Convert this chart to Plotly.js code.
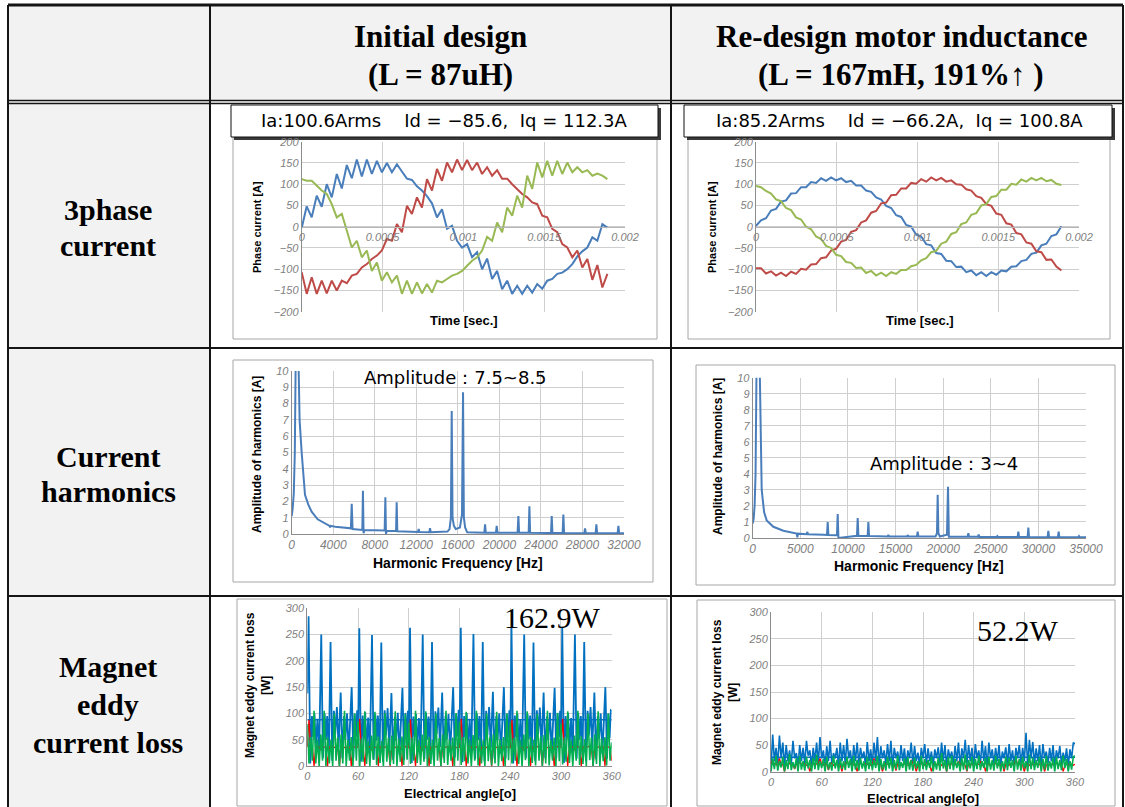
<!DOCTYPE html>
<html><head><meta charset="utf-8">
<script src="https://cdn.plot.ly/plotly-3.0.1.min.js"></script>
<style>html,body{margin:0;padding:0;background:#fff}#chart{width:1125px;height:807px}</style>
</head><body><div id="chart"></div>
<script>
const W = 1125, H = 807;

// ---------- 3-phase current (time in seconds) ----------
const timeSec = [0,0.000031,0.000062,0.000093,0.000124,0.000155,0.000186,0.000217,0.000248,0.000279,0.00031,0.000341,0.000372,0.000403,0.000434,0.000465,0.000496,0.000527,0.000558,0.000589,0.00062,0.000651,0.000682,0.000713,0.000744,0.000775,0.000806,0.000837,0.000868,0.000899,0.00093,0.000961,0.000992,0.001023,0.001054,0.001085,0.001116,0.001147,0.001178,0.001209,0.00124,0.001271,0.001302,0.001333,0.001364,0.001395,0.001426,0.001457,0.001488,0.001519,0.00155,0.001581,0.001612,0.001643,0.001674,0.001705,0.001736,0.001767,0.001798,0.001829,0.00186,0.001891];
const initPhaseA = [-3,48,22,73,47,100,69,124,90,145,114,158,118,158,124,155,128,150,128,147,130,113,110,95,85,72,55,22,41,-5,2,-33,-49,-41,-72,-60,-100,-75,-123,-104,-147,-127,-158,-139,-158,-139,-155,-135,-146,-127,-123,-111,-108,-100,-88,-70,-58,-49,-25,-33,6,-2];
const initPhaseB = [-107,-158,-119,-158,-127,-157,-127,-150,-127,-133,-115,-111,-96,-88,-76,-68,-56,-29,-33,6,-13,49,30,69,45,112,85,136,108,151,128,158,133,157,133,151,124,140,120,133,113,113,100,89,77,69,57,53,26,22,-5,-13,-41,-49,-72,-56,-96,-76,-125,-90,-143,-111];
const initPhaseC = [112,108,108,96,85,77,53,22,30,-9,-49,-33,-72,-56,-104,-84,-127,-107,-131,-115,-158,-127,-158,-131,-157,-135,-155,-127,-131,-123,-115,-111,-104,-92,-80,-72,-56,-24,-33,10,-13,45,26,73,45,120,89,151,116,155,120,155,124,151,128,140,128,133,120,125,120,112];
const redPhaseA = [2,15,20,38,42,59,62,78,79,93,93,105,103,114,108,116,109,114,105,108,97,97,85,82,69,64,49,44,27,23,4,0,-19,-23,-41,-44,-62,-64,-80,-81,-95,-94,-107,-103,-114,-107,-116,-107,-113,-103,-105,-94,-93,-81,-78,-64,-61,-44,-40,-22,-18,1];
const redPhaseB = [-98,-98,-110,-105,-115,-108,-116,-106,-111,-99,-101,-89,-88,-74,-72,-56,-52,-35,-31,-12,-8,10,15,33,37,55,57,74,75,90,90,103,101,112,106,116,109,115,106,109,100,99,88,85,72,68,53,49,31,28,8,5,-15,-18,-37,-40,-58,-60,-78,-77,-94,-103];
const redPhaseC = [96,93,84,78,64,60,44,39,22,17,0,-6,-23,-29,-45,-50,-66,-69,-83,-85,-97,-96,-109,-104,-115,-108,-116,-107,-111,-102,-102,-93,-90,-79,-74,-60,-57,-40,-35,-17,-13,6,10,28,32,50,53,70,72,87,87,101,99,111,106,115,109,115,107,110,101,98];
const timeTickVals = [0,0.0005,0.001,0.0015,0.002];
const timeTickText = ["0","0.0005","0.001","0.0015","0.002"];

// ---------- current harmonics ----------
const harmInitFreq = [0,100,200,300,380,450,526,600,660,760,960,1280,1600,1920,2500,3200,3650,3700,3750,4200,5000,5700,5780,5860,6800,6860,6920,7000,8000,8950,9020,9080,9150,10050,10110,10170,12150,12230,12300,13250,13320,13390,15000,15200,15330,15410,15490,15620,15800,16200,16400,16500,16580,16700,16900,18550,18620,18690,19670,19740,19810,21750,21830,21900,22820,22890,22960,24970,25040,25110,26090,26160,26230,28180,28250,28320,29270,29340,29410,31390,31460,31530,32000];
const harmInitAmp = [1.1,1.6,2.5,5,10.5,25,40,25,10.5,7,5,2.4,1.8,1.37,0.9,0.65,0.5,0.4,0.5,0.45,0.38,0.35,1.85,0.3,0.25,2.65,0.05,0.25,0.23,0.22,2.25,0.0,0.2,0.18,1.95,0.17,0.12,0.3,0.12,0.11,0.35,0.11,0.15,0.3,1.0,7.55,1.0,0.5,0.3,0.4,1.2,8.7,1.0,0.4,0.1,0.08,0.6,0.08,0.08,0.5,0.08,0.07,1.1,0.07,0.07,1.7,0.07,0.06,1.1,0.06,0.06,1.2,0.06,0.05,0.35,0.05,0.05,0.6,0.05,0.05,0.5,0.05,0.05];
const harmRedFreq = [0,100,200,300,400,470,560,650,740,945,1200,1470,2170,3220,4620,4690,4760,5670,5740,5810,7420,7800,7875,7950,8850,8925,9000,10950,11025,11100,12070,12145,12220,14170,14245,14320,16200,16275,16350,17250,17325,17400,19200,19350,19425,19500,19650,20400,20510,20600,22570,22645,22720,23650,23730,23800,25620,25690,25760,27820,27895,27970,28870,28945,29020,30970,31045,31120,32050,32130,32200,34190,34265,34340,35000];
const harmRedAmp = [0.9,1.2,2.0,4,10.5,30,40,30,10.5,3,1.6,1.1,0.7,0.45,0.28,0.05,0.27,0.24,0.38,0.23,0.2,0.19,1.0,0.18,0.17,1.5,0.0,0.14,1.25,0.13,0.12,1.0,0.12,0.1,0.2,0.1,0.1,0.18,0.1,0.09,0.4,0.09,0.09,0.3,2.7,0.3,0.09,0.2,3.2,0.08,0.08,0.3,0.08,0.08,0.22,0.07,0.07,0.12,0.07,0.06,0.4,0.06,0.06,0.65,0.06,0.05,0.45,0.05,0.05,0.4,0.05,0.05,0.12,0.05,0.05];

// ---------- magnet eddy current loss ----------
const eddyInitBlueAngle = [0,1.5,3.5,5.5,7,8.5,10,12,14,16.5,18.5,20.5,22,23.5,25.5,27.5,29.5,31.5,33,35,37,39.5,41.5,43.5,45,47,49,52.5,54.5,56,57.5,59,60,
61.5,63.5,65.5,67,68.5,70,72,74,76.5,78.5,80.5,82,83.5,85.5,87.5,89.5,91.5,93,95,97,99.5,101.5,103.5,105,107,109,112.5,114.5,116,117.5,119,120,
121.5,123.5,125.5,127,128.5,130,132,134,136.5,138.5,140.5,142,143.5,145.5,147.5,149.5,151.5,153,155,157,159.5,161.5,163.5,165,167,169,172.5,174.5,176,177.5,179,180,
181.5,183.5,185.5,187,188.5,190,192,194,196.5,198.5,200.5,202,203.5,205.5,207.5,209.5,211.5,213,215,217,219.5,221.5,223.5,225,227,229,232.5,234.5,236,237.5,239,240,
241.5,243.5,245.5,247,248.5,250,252,254,256.5,258.5,260.5,262,263.5,265.5,267.5,269.5,271.5,273,275,277,279.5,281.5,283.5,285,287,289,292.5,294.5,296,297.5,299,300,
301.5,303.5,305.5,307,308.5,310,312,314,316.5,318.5,320.5,322,323.5,325.5,327.5,329.5,331.5,333,335,337,339.5,341.5,343.5,345,347,349,352.5,354.5,356,357.5,359,360];
const eddyInitBlueLoss = [138,285,5,95,55,100,35,90,25,250,15,100,50,95,20,236,10,105,60,112,35,140,15,95,50,100,25,150,15,100,55,106,40,
262,8,96,52,102,30,92,22,249,12,98,48,96,18,235,8,106,58,110,32,139,12,94,48,101,22,149,12,101,52,105,38,
263,6,94,56,99,36,91,26,250,14,101,50,94,21,236,11,104,61,111,36,140,16,96,51,99,26,150,16,99,56,107,41,
263,7,95,54,101,33,90,24,251,13,100,49,95,19,236,9,105,59,112,34,141,14,95,49,100,24,150,14,100,54,106,39,
263,5,96,55,100,35,89,25,250,15,99,51,96,20,235,10,106,60,111,35,140,15,94,50,101,25,149,15,101,55,105,40,
265,6,95,53,101,34,91,23,250,14,100,50,95,21,236,9,105,58,112,33,140,13,95,52,100,23,150,14,100,53,106,105];
const eddyMeanAngle = [0,360];
const eddyInitBlueMean = [88,88];
const eddyRedBlueMean = [27,27];
const angleGrid = [0,2,4,6,8,10,12,14,16,18,20,22,24,26,28,30,32,34,36,38,40,42,44,46,48,50,52,54,56,58,60,62,64,66,68,70,72,74,76,78,80,82,84,86,88,90,92,94,96,98,100,102,104,106,108,110,112,114,116,118,120,122,124,126,128,130,132,134,136,138,140,142,144,146,148,150,152,154,156,158,160,162,164,166,168,170,172,174,176,178,180,182,184,186,188,190,192,194,196,198,200,202,204,206,208,210,212,214,216,218,220,222,224,226,228,230,232,234,236,238,240,242,244,246,248,250,252,254,256,258,260,262,264,266,268,270,272,274,276,278,280,282,284,286,288,290,292,294,296,298,300,302,304,306,308,310,312,314,316,318,320,322,324,326,328,330,332,334,336,338,340,342,344,346,348,350,352,354,356,358,360];
const eddyInitGreen = [80,5,55,10,105,5,50,0,60,10,105,0,55,5,50,0,100,10,55,0,60,5,105,0,50,10,55,0,100,10,
85,0,52,8,104,4,48,0,58,12,103,2,56,6,48,0,101,8,54,2,58,4,104,0,52,8,56,2,99,12,
82,4,54,10,105,6,50,2,60,8,104,0,55,4,50,0,100,10,53,0,60,6,105,2,50,10,54,0,101,10,
84,2,55,9,103,5,51,0,59,10,105,1,54,5,49,0,100,9,55,1,61,5,103,0,51,9,55,0,100,11,
83,5,53,10,105,4,50,0,60,11,104,0,55,6,50,1,99,10,56,0,59,5,105,1,50,10,54,0,101,9,
81,3,54,8,104,6,49,0,58,10,105,2,56,4,51,0,100,11,54,0,60,4,104,0,52,9,55,1,100,10,45];
const eddyInitRed = [36,88,30,36,0,38,35,36,30,37,36,35,0,36,37,36,35,38,36,0,36,37,35,36,34,36,0,37,36,35,
36,90,28,37,0,36,35,37,31,36,35,36,0,37,36,35,36,37,35,0,37,36,35,37,34,35,0,36,37,35,
35,89,30,36,0,37,36,35,30,36,37,35,0,36,35,37,36,38,35,0,36,35,36,37,35,36,0,36,35,36,
36,90,29,36,0,38,35,36,31,37,36,35,0,35,37,36,35,37,36,0,36,37,35,36,34,36,0,37,36,35,
35,88,30,37,0,36,36,35,30,36,35,37,0,36,36,35,37,36,35,0,37,36,35,36,35,36,0,36,37,35,
36,90,28,36,0,37,35,36,31,36,37,35,0,36,37,35,36,38,36,0,36,35,36,37,34,36,0,37,36,35,10];
const eddyRedBlue = [5,70,20,45,15,68,25,55,10,50,20,40,15,58,25,35,10,50,20,45,
15,58,30,40,10,45,20,55,15,65,25,40,10,48,20,58,15,35,25,45,
10,55,20,50,15,62,25,40,10,50,20,55,15,45,25,38,10,56,20,42,
15,55,20,65,10,48,25,40,15,52,20,58,10,45,25,38,15,50,20,44,
10,40,25,55,15,48,20,36,10,45,25,52,15,44,20,38,10,42,25,46,
15,55,20,50,10,42,25,38,15,48,20,55,10,44,25,60,15,50,20,45,
10,52,25,40,15,58,20,48,10,55,25,42,15,45,20,50,10,38,25,46,
15,52,20,40,10,45,25,50,15,45,20,73,10,60,25,56,15,44,20,50,
10,52,25,38,15,45,20,50,10,40,25,48,15,36,20,44,10,42,25,55,52];
const eddyRedGreen = [0,25,5,30,2,20,8,28,0,22,5,33,3,18,6,25,0,30,4,20,
2,28,6,22,0,26,5,32,3,20,7,24,0,28,4,18,2,30,6,22,
0,25,5,20,3,28,7,24,0,30,4,22,2,26,6,20,0,28,5,25,
3,22,7,30,0,24,4,20,2,28,6,26,0,22,5,30,3,18,7,25,
0,28,4,22,2,26,6,20,0,30,5,24,3,22,7,28,0,20,4,26,
2,35,6,22,0,28,5,30,3,24,7,20,0,26,4,32,2,22,6,28,
0,24,5,30,3,20,7,26,0,28,4,22,2,30,6,24,0,20,5,28,
3,26,7,22,0,30,4,24,2,28,6,20,0,32,5,26,3,22,7,28,
0,24,4,30,2,20,6,26,0,28,5,22,3,30,7,24,0,20,4,28,30];
const eddyRedRed = [14,22,12,15,10,25,13,14,0,15,12,16,14,13,5,15,12,20,14,13,
15,12,14,0,13,16,12,15,14,25,13,12,15,14,3,13,16,12,14,15,
12,14,0,15,13,22,12,14,15,13,12,0,14,16,13,12,15,14,13,12,
14,25,12,15,13,14,0,12,15,14,13,16,12,14,2,15,13,12,14,15,
13,12,14,22,15,13,0,12,14,15,13,12,16,14,13,0,12,15,14,13,
15,12,14,13,0,16,12,15,13,14,12,20,15,13,14,12,0,15,13,14,
12,15,13,14,20,12,15,0,13,14,12,15,13,16,14,12,13,15,0,14,
13,12,15,14,12,25,13,14,15,12,0,13,14,12,15,13,14,16,12,13,
15,14,0,13,12,15,14,13,12,16,14,13,15,0,12,14,13,15,14,12,14];

// ---------- helpers ----------
const xp = p => p / W;
const yp = p => 1 - p / H;
const SANS = 'Liberation Sans, Arial, sans-serif';
const SERIF = 'Liberation Serif, Times New Roman, serif';
const tickFont = {family: SANS, size: 11, color: '#7f7f7f', style: 'italic'};
const GRID = '#cfcfcf', AXL = '#8c8c8c';

function xAxis(x0, x1, extra) {
  return Object.assign({domain: [xp(x0), xp(x1)], showgrid: true, gridcolor: GRID, gridwidth: 1,
    showline: true, linecolor: AXL, linewidth: 1, zeroline: false, ticks: '', tickfont: tickFont,
    fixedrange: true, tickformat: 'd'}, extra);
}
function yAxis(top, bottom, extra) {
  return Object.assign({domain: [yp(bottom), yp(top)], showgrid: true, gridcolor: GRID, gridwidth: 1,
    showline: true, linecolor: AXL, linewidth: 1, zeroline: false, ticks: '', tickfont: tickFont,
    fixedrange: true}, extra);
}
function ln(x, y, xa, ya, color, width) {
  return {x: x, y: y, xaxis: xa, yaxis: ya, type: 'scatter', mode: 'lines',
    line: {color: color, width: width}, hoverinfo: 'skip'};
}

const BLUE = '#4a7ebb', RED = '#be4b48', GREEN = '#98b954';
const data = [
  ln(timeSec, initPhaseA, 'x', 'y', BLUE, 2),
  ln(timeSec, initPhaseB, 'x', 'y', RED, 2),
  ln(timeSec, initPhaseC, 'x', 'y', GREEN, 2),
  ln(timeSec, redPhaseA, 'x2', 'y2', BLUE, 2),
  ln(timeSec, redPhaseB, 'x2', 'y2', RED, 2),
  ln(timeSec, redPhaseC, 'x2', 'y2', GREEN, 2),
  ln(harmInitFreq, harmInitAmp, 'x3', 'y3', BLUE, 2),
  ln(harmRedFreq, harmRedAmp, 'x4', 'y4', BLUE, 2),
  ln(eddyInitBlueAngle, eddyInitBlueLoss, 'x5', 'y5', '#0070c0', 1.8),
  ln(eddyMeanAngle, eddyInitBlueMean, 'x5', 'y5', '#0070c0', 1.5),
  ln(angleGrid, eddyInitRed, 'x5', 'y5', '#ff0000', 1.3),
  ln(angleGrid, eddyInitGreen, 'x5', 'y5', '#00b050', 1.6),
  ln(angleGrid, eddyRedBlue, 'x6', 'y6', '#0070c0', 1.6),
  ln(eddyMeanAngle, eddyRedBlueMean, 'x6', 'y6', '#0070c0', 1.5),
  ln(angleGrid, eddyRedRed, 'x6', 'y6', '#ff0000', 1.3),
  ln(angleGrid, eddyRedGreen, 'x6', 'y6', '#00b050', 1.6)
];

// ---------- shapes (table + frames) ----------
const shapes = [];
function rect(x0, y0, x1, y1, fill, lineColor, lw) {
  shapes.push({type: 'rect', xref: 'paper', yref: 'paper', x0: xp(x0), x1: xp(x1), y0: yp(y1), y1: yp(y0),
    fillcolor: fill || 'rgba(0,0,0,0)', line: {color: lineColor || 'rgba(0,0,0,0)', width: lw || 0}, layer: 'below'});
}
function seg(x0, y0, x1, y1, color, lw) {
  shapes.push({type: 'line', xref: 'paper', yref: 'paper', x0: xp(x0), x1: xp(x1), y0: yp(y0), y1: yp(y1),
    line: {color: color, width: lw}, layer: 'above'});
}
rect(8, 5, 1123, 101, '#f2f2f2');
rect(8, 101, 210, 807, '#f2f2f2');
// chart frames
rect(233, 137, 657, 339, null, '#a6a6a6', 1);
rect(688, 137, 1110, 339, null, '#a6a6a6', 1);
rect(233, 360, 653, 582, null, '#a6a6a6', 1);
rect(696, 365, 1115, 585, null, '#a6a6a6', 1);
rect(237, 599, 667, 806, null, '#a6a6a6', 1);
rect(697, 600, 1115, 806, null, '#a6a6a6', 1);
// label boxes with shadow
rect(234, 108, 661, 140, '#3a3a3a');
rect(231, 105, 658, 137, '#ffffff', '#111111', 1);
rect(687, 108, 1115, 140, '#3a3a3a');
rect(684, 105, 1112, 137, '#ffffff', '#111111', 1);
// table lines
const TL = '#151515';
seg(8, 5, 1123, 5, TL, 3);
seg(8, 100.5, 1123, 100.5, TL, 1.5);
seg(8, 103.5, 1123, 103.5, TL, 1.5);
seg(8, 348, 1123, 348, TL, 2);
seg(8, 596, 1123, 596, TL, 2);
seg(8, 5, 8, 807, TL, 2);
seg(210, 5, 210, 807, TL, 2);
seg(671, 5, 671, 807, TL, 2);
seg(1123, 5, 1123, 807, TL, 2);

// ---------- annotations ----------
const ann = [];
function A(text, x, y, font, extra) {
  ann.push(Object.assign({text: text, xref: 'paper', yref: 'paper', x: xp(x), y: yp(y),
    xanchor: 'center', yanchor: 'middle', showarrow: false, font: font}, extra || {}));
}
const headFont = {family: SERIF, size: 31, color: '#000'};
A('<b>Initial design</b>', 440, 37, headFont);
A('<b>(L = 87uH)</b>', 440, 74, headFont);
A('<b>Re-design motor inductance</b>', 901, 37, headFont);
A('<b>(L = 167mH, 191%↑ )</b>', 900, 74, headFont);
const rowFont = {family: SERIF, size: 30, color: '#000'};
A('<b>3phase</b>', 108, 210, rowFont);
A('<b>current</b>', 108, 245, rowFont);
A('<b>Current</b>', 108, 456, rowFont);
A('<b>harmonics</b>', 108, 492, rowFont);
A('<b>Magnet</b>', 108, 666, rowFont);
A('<b>eddy</b>', 108, 704, rowFont);
A('<b>current loss</b>', 108, 742, rowFont);

const boxFont = {family: 'DejaVu Sans, sans-serif', size: 18, color: '#000'};
const NB = '\u00a0';
A('Ia:100.6Arms' + NB.repeat(4) + 'Id = −85.6,' + NB.repeat(2) + 'Iq = 112.3A', 444, 121, boxFont);
A('Ia:85.2Arms' + NB.repeat(4) + 'Id = −66.2A,' + NB.repeat(2) + 'Iq = 100.8A', 899, 121, boxFont);
A('Amplitude：7.5~8.5', 455, 378, boxFont);
A('Amplitude：3~4', 944, 463, boxFont);
const bigFont = {family: SERIF, size: 30, color: '#000'};
A('162.9W', 552, 617, bigFont);
A('52.2W', 1018, 630, bigFont);

const tV = {family: SANS, size: 11, color: '#000'};
const tH = {family: SANS, size: 13, color: '#000'};
A('<b>Phase current [A]</b>', 257, 227, tV, {textangle: -90});
A('<b>Time [sec.]</b>', 464, 320, tH);
A('<b>Phase current [A]</b>', 712, 227, tV, {textangle: -90});
A('<b>Time [sec.]</b>', 920, 320, tH);
A('<b>Amplitude of harmonics [A]</b>', 257, 455, {family: SANS, size: 12, color: '#000'}, {textangle: -90});
A('<b>Harmonic Frequency [Hz]</b>', 458, 563, {family: SANS, size: 14, color: '#000'});
A('<b>Amplitude of harmonics [A]</b>', 718, 457, {family: SANS, size: 12, color: '#000'}, {textangle: -90});
A('<b>Harmonic Frequency [Hz]</b>', 919, 566, {family: SANS, size: 14, color: '#000'});
A('<b>Magnet eddy current loss<br>[W]</b>', 258, 685, {family: SANS, size: 12, color: '#000'}, {textangle: -90});
A('<b>Electrical angle[o]</b>', 460, 793, {family: SANS, size: 13, color: '#000'});
A('<b>Magnet eddy current loss<br>[W]</b>', 725, 692, {family: SANS, size: 12, color: '#000'}, {textangle: -90});
A('<b>Electrical angle[o]</b>', 923, 798, {family: SANS, size: 13, color: '#000'});

const layout = {
  width: W, height: H, margin: {l: 0, r: 0, t: 0, b: 0, pad: 0},
  paper_bgcolor: '#ffffff', plot_bgcolor: 'rgba(0,0,0,0)', showlegend: false,
  xaxis: xAxis(301.7, 625, {range: [0, 0.002], tickvals: timeTickVals, ticktext: timeTickText, anchor: 'free', position: yp(226.7), tickformat: '', linecolor: '#b5b5b5'}),
  yaxis: yAxis(141.7, 311.7, {range: [-200, 200], dtick: 50, tick0: 0, anchor: 'x'}),
  xaxis2: xAxis(756, 1079, {range: [0, 0.002], tickvals: timeTickVals, ticktext: timeTickText, anchor: 'free', position: yp(226.7), tickformat: '', linecolor: '#b5b5b5'}),
  yaxis2: yAxis(141.7, 311.7, {range: [-200, 200], dtick: 50, tick0: 0, anchor: 'x2'}),
  xaxis3: xAxis(291.7, 624, {range: [0, 32000], dtick: 4000, tick0: 0, anchor: 'y3', tickfont: Object.assign({}, tickFont, {size: 12})}),
  yaxis3: yAxis(371, 534, {range: [0, 10], dtick: 1, tick0: 0, anchor: 'x3'}),
  xaxis4: xAxis(752.7, 1086, {range: [0, 35000], dtick: 5000, tick0: 0, anchor: 'y4', tickfont: Object.assign({}, tickFont, {size: 12})}),
  yaxis4: yAxis(377.7, 538, {range: [0, 10], dtick: 1, tick0: 0, anchor: 'x4'}),
  xaxis5: xAxis(307.3, 611.7, {range: [0, 360], dtick: 60, tick0: 0, anchor: 'y5'}),
  yaxis5: yAxis(608.3, 766, {range: [0, 300], dtick: 50, tick0: 0, anchor: 'x5'}),
  xaxis6: xAxis(771, 1075, {range: [0, 360], dtick: 60, tick0: 0, anchor: 'y6'}),
  yaxis6: yAxis(612.3, 771.7, {range: [0, 300], dtick: 50, tick0: 0, anchor: 'x6'}),
  shapes: shapes,
  annotations: ann
};

Plotly.newPlot('chart', data, layout, {displayModeBar: false, staticPlot: true});
</script>
</body></html>
